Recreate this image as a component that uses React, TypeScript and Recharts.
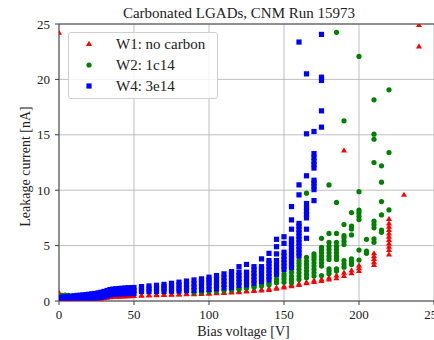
import React from "react"
import {
  CartesianGrid,
  ReferenceLine,
  Scatter,
  ScatterChart,
  XAxis,
  YAxis,
} from "recharts"

// one row per bias step: [voltage, current of every pad at that voltage (nA)...]
const w1NoCarbon: number[][] = [
  [0, 0.12, 0.75, 24.2], [2, 0.12], [4, 0.12], [6, 0.12], [8, 0.12], [10, 0.12],
  [12, 0.12], [14, 0.13], [16, 0.13], [18, 0.13], [20, 0.13], [22, 0.14],
  [24, 0.15], [26, 0.17], [28, 0.2], [30, 0.24], [32, 0.29], [34, 0.34],
  [36, 0.37], [38, 0.38], [40, 0.39], [42, 0.4], [44, 0.41], [46, 0.42],
  [48, 0.43], [50, 0.44],
  [55, 0.48, 0.52], [60, 0.5, 0.54], [65, 0.52, 0.56], [70, 0.54, 0.58],
  [75, 0.56, 0.6], [80, 0.58, 0.62], [85, 0.6, 0.64], [90, 0.62, 0.67],
  [95, 0.64, 0.7], [100, 0.66, 0.72], [105, 0.69, 0.76], [110, 0.72, 0.8],
  [115, 0.76, 0.84], [120, 0.8, 0.88], [125, 0.85, 0.93], [130, 0.9, 0.98],
  [135, 0.95, 1.04], [140, 1.0, 1.1], [145, 1.1, 1.2], [150, 1.22, 1.32],
  [155, 1.32, 1.45], [160, 1.45, 1.55], [165, 1.6, 1.7], [170, 1.72, 1.85],
  [175, 1.8, 1.95], [180, 1.95, 2.1], [185, 2.05, 2.3], [190, 2.25, 2.55, 13.58],
  [195, 2.5, 2.75], [200, 2.7, 2.95, 3.2], [210, 3.25, 3.5, 3.8, 4.05, 4.3],
  [220, 4.2, 4.6, 4.9, 5.2, 5.5, 5.8, 6.1, 6.4, 6.7, 7.0, 7.4],
  [230, 9.58], [240, 22.97, 24.9],
]

const w2Carbon1e14: number[][] = [
  [2, 0.52], [4, 0.54], [6, 0.52],
  [90, 0.76], [95, 0.8], [100, 0.86], [105, 0.9], [110, 0.95], [115, 1.0],
  [120, 1.05, 1.15], [125, 1.15, 1.25], [130, 1.25, 1.35], [135, 1.35, 1.45],
  [140, 1.45, 1.6], [145, 1.65, 1.85, 2.0], [150, 1.7, 2.0, 2.25, 2.45],
  [155, 1.65, 1.95, 2.25, 2.6], [160, 1.95, 2.25, 2.55, 2.85, 3.15, 3.4, 3.65],
  [165, 2.1, 2.4, 2.7, 3.0, 3.3, 3.6, 3.95, 9.73],
  [170, 2.25, 2.55, 2.85, 3.15, 3.45, 3.75, 4.0, 4.25],
  [175, 2.3, 3.15, 3.45, 3.75, 4.05, 4.35, 4.6, 4.85, 5.66],
  [180, 2.45, 2.7, 2.9, 3.75, 4.05, 4.35, 4.65, 4.95, 5.3, 6.1, 10.48],
  [185, 2.7, 2.9, 3.75, 4.05, 4.35, 4.65, 4.95, 5.3, 6.1, 8.9, 24.25],
  [190, 3.05, 3.35, 3.65, 5.1, 5.4, 5.7, 5.9, 6.9, 16.26],
  [195, 3.3, 3.55, 3.8, 5.96, 6.5, 6.75, 7.98],
  [200, 3.7, 4.6, 7.35, 7.65, 7.95, 8.2, 9.87, 22.07],
  [205, 4.3, 4.5, 5.57],
  [210, 5.3, 5.6, 6.6, 6.9, 7.2, 12.5, 14.6, 15.06, 18.16],
  [215, 6.2, 6.4, 7.77, 8.97, 10.72, 12.2],
  [220, 8.22, 13.4, 19.06],
]

const w4Carbon3e14: number[][] = [
  [0, 0.28, 0.31], [2, 0.28, 0.34], [4, 0.28, 0.37], [6, 0.28, 0.4],
  [8, 0.28, 0.44], [10, 0.28, 0.47], [12, 0.28, 0.5], [14, 0.28, 0.52],
  [16, 0.28, 0.55], [18, 0.28, 0.58], [20, 0.28, 0.61], [22, 0.28, 0.65],
  [24, 0.29, 0.68], [26, 0.3, 0.73], [28, 0.33, 0.79], [30, 0.38, 0.62, 0.86],
  [32, 0.45, 0.7, 0.95], [34, 0.55, 0.8, 1.03], [36, 0.6, 0.84, 1.08],
  [38, 0.63, 0.87, 1.1], [40, 0.65, 0.89, 1.13], [42, 0.66, 0.9, 1.15],
  [44, 0.66, 0.92, 1.17], [46, 0.67, 0.93, 1.19], [48, 0.67, 0.94, 1.2],
  [50, 0.68, 0.95, 1.22],
  [55, 0.85, 1.08, 1.3], [60, 0.85, 1.1, 1.36], [65, 0.85, 1.15, 1.42],
  [70, 0.86, 1.1, 1.3, 1.5], [75, 0.88, 1.12, 1.38, 1.6], [80, 0.9, 1.15, 1.45, 1.7],
  [85, 0.92, 1.2, 1.5, 1.8], [90, 0.95, 1.25, 1.55, 1.9], [95, 1.0, 1.3, 1.6, 1.8, 2.0],
  [100, 1.05, 1.35, 1.65, 1.9, 2.15], [105, 1.1, 1.4, 1.7, 2.0, 2.3],
  [110, 1.2, 1.5, 1.8, 2.1, 2.45], [115, 1.2, 1.5, 1.8, 2.1, 2.4, 2.65],
  [120, 1.4, 1.7, 2.0, 2.3, 2.6, 3.1], [125, 1.45, 1.75, 2.05, 2.35, 2.6, 3.3],
  [130, 1.6, 1.9, 2.2, 2.5, 2.8, 3.1], [135, 1.75, 2.05, 2.35, 2.65, 2.9, 3.1, 3.8],
  [140, 1.9, 2.2, 2.5, 2.8, 3.1, 3.4, 3.65, 4.3],
  [145, 2.4, 2.7, 3.0, 3.3, 3.65, 4.25, 4.9, 5.57],
  [150, 2.85, 3.15, 3.45, 3.75, 4.05, 4.4, 5.2, 5.8],
  [155, 3.0, 3.3, 3.6, 3.9, 4.2, 4.5, 4.8, 5.1, 5.35, 5.6, 6.48, 7.32, 8.52],
  [160, 4.05, 4.35, 4.65, 4.95, 5.25, 5.55, 5.85, 6.15, 6.45, 6.75, 7.0, 9.58, 10.48, 23.37],
  [165, 5.66, 6.48, 7.5, 7.8, 8.1, 8.45, 8.8, 11.3, 15.09, 20.5],
  [170, 9.06, 10.05, 10.35, 10.65, 10.9, 12.0, 12.3, 12.6, 12.95, 13.3, 15.3],
  [175, 15.69, 17.16, 19.9, 20.2, 24.06],
]

const xTicks = [0, 50, 100, 150, 200, 250]
const yTicks = [0, 5, 10, 15, 20, 25]

const toPoints = (rows: number[][]) =>
  rows.flatMap(([v, ...currents]) => currents.map((i) => ({ x: v, y: i })))

const font = "'Liberation Serif', 'DejaVu Serif', serif"
const textColor = "#222"

const triangle = (color: string) => (props: any) => {
  const { cx, cy } = props
  return (
    <polygon
      points={`${cx},${cy - 3.2} ${cx + 3},${cy + 2} ${cx - 3},${cy + 2}`}
      fill={color}
    />
  )
}
const circle = (color: string) => (props: any) => (
  <circle cx={props.cx} cy={props.cy} r={2.6} fill={color} />
)
const square = (color: string) => (props: any) => (
  <rect x={props.cx - 2.6} y={props.cy - 2.6} width={5.2} height={5.2} fill={color} />
)

const series = [
  { name: "W1: no carbon", rows: w1NoCarbon, color: "#ff0000", shape: triangle },
  { name: "W2: 1c14", rows: w2Carbon1e14, color: "#008000", shape: circle },
  { name: "W4: 3e14", rows: w4Carbon3e14, color: "#0000ff", shape: square },
]

function LegendBox() {
  return (
    <div
      style={{
        position: "absolute",
        left: 68,
        top: 32,
        width: 150,
        height: 67,
        boxSizing: "border-box",
        border: "1px solid #d0d0d0",
        borderRadius: 3,
        background: "rgba(255,255,255,0.8)",
        fontFamily: font,
        fontSize: 15,
        color: textColor,
      }}
    >
      {series.map((s, idx) => {
        const Marker = s.shape(s.color)
        return (
          <div
            key={s.name}
            style={{
              position: "absolute",
              left: 0,
              top: 1.3 + idx * 20.7,
              height: 20,
              width: 148,
            }}
          >
            <svg width={12} height={20} style={{ position: "absolute", left: 14.3, top: 0 }}>
              <Marker cx={6} cy={10} />
            </svg>
            <span style={{ position: "absolute", left: 47, top: 1, lineHeight: "18px", whiteSpace: "nowrap" }}>
              {s.name}
            </span>
          </div>
        )
      })}
    </div>
  )
}

export default function App() {
  const tickStyle = { fontFamily: font, fontSize: 13, fill: textColor }
  return (
    <div style={{ position: "absolute", left: 0, top: 0, width: 434, height: 340, background: "#fff" }}>
      <ScatterChart
        width={434}
        height={340}
        margin={{ top: 24, right: 0, bottom: 0, left: 0 }}
      >
        <CartesianGrid stroke="#b8b8b8" strokeWidth={0.9} />
        <XAxis
          type="number"
          dataKey="x"
          domain={[0, 250]}
          ticks={xTicks}
          interval={0}
          allowDataOverflow
          height={39}
          tickSize={4}
          tickMargin={5}
          tick={tickStyle}
          axisLine={{ stroke: "#404040" }}
          tickLine={{ stroke: "#404040" }}
          label={{
            value: "Bias voltage [V]",
            position: "insideBottom",
            offset: 4,
            dx: -3,
            style: { fontFamily: font, fontSize: 14, fill: textColor },
          }}
        />
        <YAxis
          type="number"
          dataKey="y"
          domain={[0, 25]}
          ticks={yTicks}
          interval={0}
          allowDataOverflow
          width={59}
          tickSize={4}
          tickMargin={5}
          tick={tickStyle}
          axisLine={{ stroke: "#404040" }}
          tickLine={{ stroke: "#404040" }}
          label={{
            value: "Leakage current [nA]",
            angle: -90,
            position: "insideLeft",
            offset: 25,
            dy: 4,
            style: { fontFamily: font, fontSize: 14, fill: textColor, textAnchor: "middle" },
          }}
        />
        <ReferenceLine y={25} stroke="#404040" />
        {series.map((s) => (
          <Scatter
            key={s.name}
            name={s.name}
            data={toPoints(s.rows)}
            fill={s.color}
            shape={s.shape(s.color)}
            isAnimationActive={false}
          />
        ))}
      </ScatterChart>
      <div
        style={{
          position: "absolute",
          left: 0,
          top: 4,
          width: 478,
          textAlign: "center",
          fontFamily: font,
          fontSize: 15,
          lineHeight: "18px",
          color: textColor,
          whiteSpace: "nowrap",
        }}
      >
        Carbonated LGADs, CNM Run 15973
      </div>
      <LegendBox />
    </div>
  )
}
